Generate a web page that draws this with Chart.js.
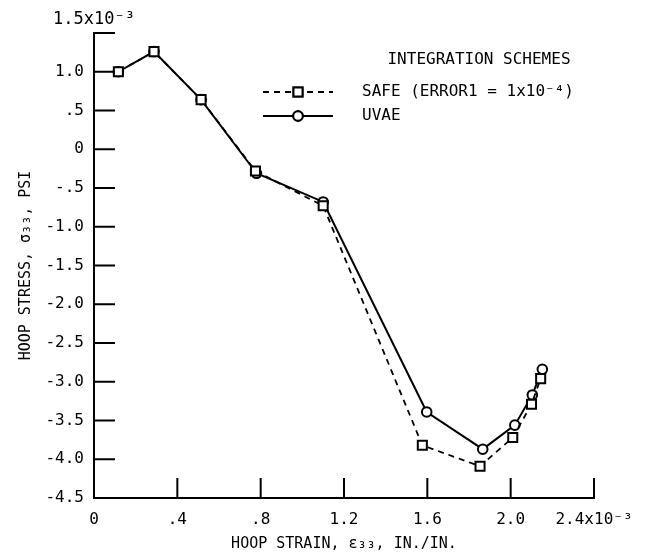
<!DOCTYPE html>
<html>
<head>
<meta charset="utf-8">
<script src="https://cdn.jsdelivr.net/npm/chart.js@4.4.0/dist/chart.umd.min.js"></script>
<style>
  body { margin: 0; background: #fff; }
  canvas { display: block; }
</style>
</head>
<body>
<canvas id="hoopChart" width="656" height="559"></canvas>
<script>
// hoop strain (x10^-3 in./in.) vs hoop stress (x10^-3 psi)
const safeStrain = [0.117, 0.288, 0.514, 0.775, 1.100, 1.576, 1.853, 2.010, 2.100, 2.144];
const safeStress = [1.00, 1.26, 0.64, -0.28, -0.73, -3.82, -4.09, -3.72, -3.29, -2.96];
const uvaeStrain = [0.117, 0.288, 0.514, 0.780, 1.100, 1.597, 1.866, 2.020, 2.104, 2.152];
const uvaeStress = [1.00, 1.26, 0.64, -0.31, -0.68, -3.39, -3.87, -3.56, -3.17, -2.84];

const xTicks = [0, 0.4, 0.8, 1.2, 1.6, 2.0, 2.4];
const xTickLabels = ['0', '.4', '.8', '1.2', '1.6', '2.0', '2.4x10\u207B\u00B3'];
const yTicks = [-4.5, -4.0, -3.5, -3.0, -2.5, -2.0, -1.5, -1.0, -0.5, 0, 0.5, 1.0, 1.5];
const yTickLabels = ['-4.5', '-4.0', '-3.5', '-3.0', '-2.5', '-2.0', '-1.5', '-1.0', '-.5', '0', '.5', '1.0', '1.5x10\u207B\u00B3'];

const FONT = '"DejaVu Sans Mono", "Liberation Mono", monospace';

function toPoints(xs, ys) {
    return xs.map((x, i) => ({x: x, y: ys[i]}));
}

// inner tick marks, top y label and the legend box
const extras = {
    id: 'extras',
    afterDraw(chart) {
        const ctx = chart.ctx;
        const xs = chart.scales.x, ys = chart.scales.y;
        const area = chart.chartArea;
        ctx.save();
        ctx.strokeStyle = '#000';
        ctx.lineWidth = 2;
        yTicks.forEach(v => {
            const py = ys.getPixelForValue(v);
            ctx.beginPath();
            ctx.moveTo(area.left, py);
            ctx.lineTo(area.left + 21, py);
            ctx.stroke();
        });
        xTicks.forEach(v => {
            const px = xs.getPixelForValue(v);
            ctx.beginPath();
            ctx.moveTo(px, area.bottom);
            ctx.lineTo(px, area.bottom - 20);
            ctx.stroke();
        });

        ctx.fillStyle = '#000';
        ctx.font = '17px ' + FONT;
        ctx.textAlign = 'center';
        ctx.textBaseline = 'middle';
        ctx.fillText(yTickLabels[yTickLabels.length - 1], area.left, 20);

        // legend
        ctx.font = '16px ' + FONT;
        ctx.fillText('INTEGRATION SCHEMES', 479, 60);
        ctx.textAlign = 'left';
        const rows = [92, 116];
        chart.data.datasets.forEach((ds, i) => {
            const y = rows[i];
            ctx.save();
            ctx.lineWidth = ds.borderWidth;
            ctx.setLineDash(ds.borderDash || []);
            ctx.beginPath();
            ctx.moveTo(263, y);
            ctx.lineTo(333, y);
            ctx.stroke();
            ctx.restore();
            Chart.helpers.drawPoint(ctx, {
                pointStyle: ds.pointStyle,
                radius: ds.pointRadius,
                borderWidth: ds.pointBorderWidth,
                rotation: 0
            }, 298, y);
            ctx.fillStyle = '#fff';
            ctx.strokeStyle = '#000';
            ctx.fill();
            ctx.lineWidth = ds.pointBorderWidth;
            ctx.stroke();
            ctx.fillStyle = '#000';
            ctx.fillText(ds.label, 362, y);
        });
        ctx.restore();
    }
};

new Chart(document.getElementById('hoopChart'), {
    type: 'line',
    data: {
        datasets: [{
            label: 'SAFE (ERROR1 = 1x10\u207B\u2074)',
            data: toPoints(safeStrain, safeStress),
            borderColor: '#000',
            borderWidth: 1.8,
            borderDash: [6, 5],
            pointStyle: 'rect',
            pointRadius: 6.4,
            pointBackgroundColor: '#fff',
            pointBorderColor: '#000',
            pointBorderWidth: 2,
            tension: 0
        }, {
            label: 'UVAE',
            data: toPoints(uvaeStrain, uvaeStress),
            borderColor: '#000',
            borderWidth: 2,
            pointStyle: 'circle',
            pointRadius: 4.8,
            pointBackgroundColor: '#fff',
            pointBorderColor: '#000',
            pointBorderWidth: 2,
            tension: 0
        }]
    },
    options: {
        responsive: false,
        animation: false,
        layout: {padding: {top: 33, right: 62, left: 0, bottom: 0}},
        plugins: {
            legend: {display: false},
            tooltip: {enabled: false}
        },
        scales: {
            x: {
                type: 'linear',
                min: 0,
                max: 2.4,
                afterFit: s => { s.height = 61; },
                afterBuildTicks: s => { s.ticks = xTicks.map(v => ({value: v})); },
                grid: {display: false, drawTicks: false},
                border: {color: '#000', width: 2},
                ticks: {
                    padding: 12,
                    color: '#000',
                    font: {family: FONT, size: 16},
                    maxRotation: 0,
                    autoSkip: false,
                    callback: (v, i) => xTickLabels[i]
                },
                title: {
                    display: true,
                    text: 'HOOP STRAIN, \u03B5\u2083\u2083, IN./IN.',
                    color: '#000',
                    font: {family: FONT, size: 15},
                    padding: {top: 0, bottom: 6}
                }
            },
            y: {
                type: 'linear',
                min: -4.5,
                max: 1.5,
                afterFit: s => { s.width = 94; },
                afterBuildTicks: s => { s.ticks = yTicks.map(v => ({value: v})); },
                grid: {display: false, drawTicks: false},
                border: {color: '#000', width: 2},
                ticks: {
                    padding: 10,
                    color: '#000',
                    font: {family: FONT, size: 16},
                    autoSkip: false,
                    callback: (v, i) => (i === yTicks.length - 1 ? '' : yTickLabels[i])
                },
                title: {
                    display: true,
                    text: 'HOOP STRESS, \u03C3\u2083\u2083, PSI',
                    color: '#000',
                    font: {family: FONT, size: 15},
                    padding: {top: 17, bottom: 0}
                }
            }
        }
    },
    plugins: [extras]
});
</script>
</body>
</html>
